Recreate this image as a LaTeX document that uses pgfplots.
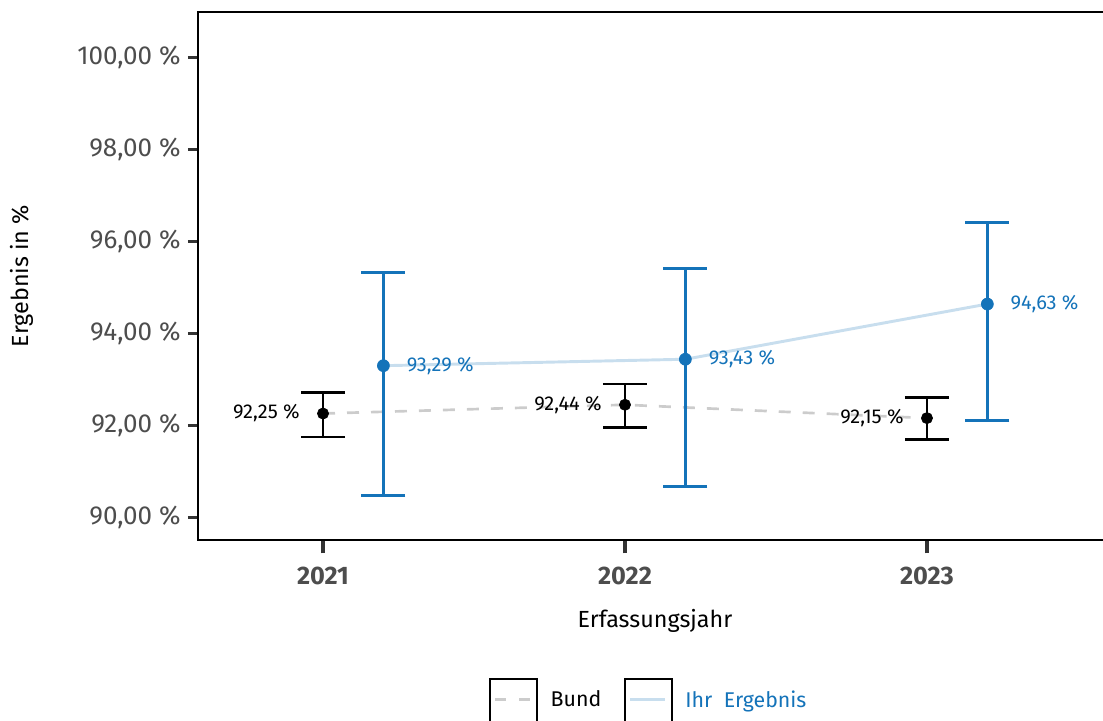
\documentclass[border=0pt]{standalone}
\usepackage{fontspec}
\setmainfont{Fira Sans}
\usepackage{pgfplots}
\usepackage{pgfplotstable}
\pgfplotsset{compat=1.18}
\usetikzlibrary{calc}
\definecolor{ihr}{RGB}{20,115,185}
\definecolor{ihrline}{RGB}{200,222,238}
\definecolor{bundline}{RGB}{204,204,204}
\definecolor{tickgray}{RGB}{77,77,77}
\definecolor{tickdark}{RGB}{51,51,51}

\pgfplotstableread{
x y ep em
0 92.25 0.45 0.51
1 92.44 0.45 0.49
2 92.15 0.45 0.46
}\bund
\pgfplotstableread{
x y ep em
0.2 93.29 2.03 2.82
1.2 93.43 1.98 2.76
2.2 94.63 1.77 2.54
}\ihr

\pgfplotsset{
  boxlegend/.style={legend image code/.code={%
    \draw[black,solid,line width=1.3pt] (0pt,-17.6pt) rectangle (35.25pt,15.75pt);
    \draw[##1] (3.75pt,0pt) -- (30pt,0pt);}},
}

\begin{document}
\begin{tikzpicture}
\begin{axis}[
  name=ax, at={(0,0)}, anchor=south west,
  scale only axis, width=678.75pt, height=396pt,
  xmin=-0.414, xmax=2.583, ymin=89.5, ymax=100.98,
  axis x line=box, axis y line=left,
  axis line style={black, line width=2.2pt, -},
  xtick pos=left, ytick pos=left,
  tick align=outside,
  xtick={0,1,2}, xticklabels={2021,2022,2023},
  ytick={90,92,94,96,98,100},
  yticklabels={{90,00 \%},{92,00 \%},{94,00 \%},{96,00 \%},{98,00 \%},{100,00 \%}},
  major tick length=7.5pt,
  x tick style={tickdark, line width=3pt, /pgfplots/major tick length=10pt},
  y tick style={tickdark, line width=2.25pt},
  yticklabel style={font=\fontsize{19.5pt}{22pt}\selectfont, text=tickgray, xshift=-2pt},
  xticklabel style={font=\fontsize{19pt}{22pt}\selectfont\bfseries, text=tickgray, yshift=-9pt},
  xlabel={Erfassungsjahr}, ylabel={Ergebnis in \%},
  every axis x label/.style={at={(rel axis cs:0.505,-0.1534)}, anchor=center, font=\fontsize{17.5pt}{20pt}\selectfont},
  every axis y label/.style={at={(rel axis cs:-0.1945,0.5)}, anchor=center, rotate=90, font=\fontsize{17.5pt}{20pt}\selectfont},
  legend columns=2,
  legend cell align=left,
  legend style={draw=none, fill=none, at={(rel axis cs:0.3172,-0.2557)}, anchor=north west,
    font=\fontsize{16pt}{19pt}\selectfont,
    /tikz/every odd column/.append style={column sep=7.5pt},
    /tikz/every even column/.append style={column sep=15pt}},
]
\addplot[forget plot, bundline, line width=2pt, dash pattern=on 9pt off 9pt] table[x=x,y=y]{\bund};
\addplot[forget plot, ihrline, line width=2.2pt] table[x=x,y=y]{\ihr};
\addplot[forget plot, black, only marks, mark=*, mark size=4.2pt, mark options={line width=0.5pt},
  error bars/.cd, y dir=both, y explicit,
  error bar style={black, line width=2.1pt},
  error mark options={black, mark size=16.5pt, line width=2.1pt, rotate=90}]
  table[x=x, y=y, y error plus=ep, y error minus=em]{\bund};
\addplot[forget plot, ihr, only marks, mark=*, mark size=4.5pt, mark options={line width=0.5pt},
  error bars/.cd, y dir=both, y explicit,
  error bar style={ihr, line width=2.1pt},
  error mark options={ihr, mark size=16.5pt, line width=2.1pt, rotate=90}]
  table[x=x, y=y, y error plus=ep, y error minus=em]{\ihr};
\addplot[forget plot, draw=none, only marks, mark=none, point meta=y,
  nodes near coords={\pgfmathprintnumber[fixed,fixed zerofill,precision=2,use comma,assume math mode=true]{\pgfplotspointmeta}~\%},
  every node near coord/.append style={anchor=east, xshift=-14pt, yshift=0pt, text=black, font=\fontsize{15pt}{18pt}\selectfont}]
  table[x=x,y=y]{\bund};
\addplot[forget plot, draw=none, only marks, mark=none, point meta=y,
  nodes near coords={\pgfmathprintnumber[fixed,fixed zerofill,precision=2,use comma,assume math mode=true]{\pgfplotspointmeta}~\%},
  every node near coord/.append style={anchor=west, xshift=14pt, text=ihr, font=\fontsize{15pt}{18pt}\selectfont}]
  table[x=x,y=y]{\ihr};
\addlegendimage{boxlegend, bundline, line width=2pt, dash pattern=on 8pt off 10pt}
\addlegendentry{Bund}
\addlegendimage{boxlegend, ihrline, line width=2.2pt}
\addlegendentry{\textcolor{ihr}{Ihr\ \ Ergebnis}}
\end{axis}
\draw[black, line width=2.2pt, line cap=rect] (ax.north east) -- (ax.north west) -- (ax.south west) -- (ax.south east);
\pgfresetboundingbox
\useasboundingbox ($(ax.south west)+(-148.5pt,-135.75pt)$) rectangle ($(ax.north east)+(0pt,9pt)$);
\end{tikzpicture}
\end{document}
